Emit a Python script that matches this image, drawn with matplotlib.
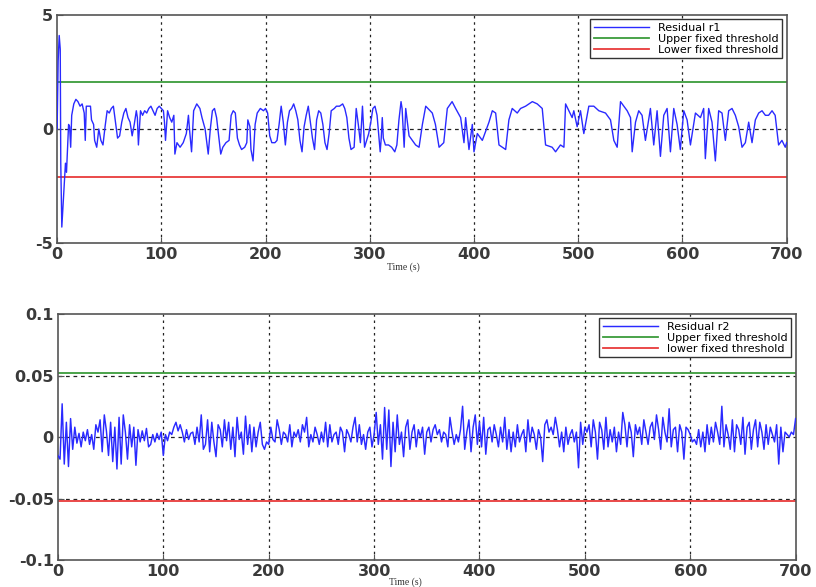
import numpy as np
import matplotlib
matplotlib.use("Agg")
import matplotlib.pyplot as plt

# ---------------- data ----------------
t1 = [0, 1, 2, 3, 3.5, 4.5, 5.5, 7, 8, 9, 10, 11, 12, 13, 14, 16, 18, 20, 22, 24, 26, 27, 28, 30, 32, 33,
      35, 36, 38, 40, 42, 44, 46, 48, 50, 52, 54, 56, 58, 60, 62, 64, 66, 68, 70, 72, 74, 76, 77, 78, 80,
      82, 84, 86, 88, 90, 92, 94, 96, 98, 100, 102, 103, 104, 106, 108, 110, 112, 113, 115, 118, 121, 124,
      126, 127, 129, 131, 134, 137, 139, 142, 145, 147, 149, 151, 153, 155, 157, 159, 162, 165, 167, 169,
      171, 173, 175, 177, 180, 182, 183, 185, 186, 188, 190, 192, 195, 198, 200, 202, 204, 206, 209, 211,
      213, 215, 217, 219, 221, 223, 225, 227, 229, 231, 233, 235, 237, 239, 241, 243, 245, 247, 249, 251,
      253, 255, 257, 259, 261, 263, 266, 268, 271, 274, 276, 278, 280, 282, 285, 287, 289, 291, 293, 295,
      297, 299, 301, 303, 305, 307, 309, 310, 311, 312, 313, 315, 318, 321, 324, 326, 328, 330, 331, 333,
      334.5, 337.7, 340.9, 344, 347.3, 350.5, 353.7, 360, 363, 366.5, 371, 374.4, 379, 382.4, 387.2, 390.4,
      392, 395.2, 398.4, 400, 403.2, 408, 414.4, 417.6, 420.8, 424, 427.2, 430.4, 433.5, 436.7, 441.5,
      444.7, 449.5, 456, 460.7, 465.5, 468.7, 475, 478.3, 483, 486.3, 487.9, 491, 494.2, 495.8, 499,
      502.2, 505.4, 510.2, 515, 519.8, 526.2, 531, 534.2, 537.4, 540.6, 543.8, 547, 550.2, 551.8, 555,
      558.1, 561.3, 564.5, 569.3, 572.5, 575.7, 578.9, 582.1, 585.3, 588.5, 591.7, 594.9, 598, 601.3,
      604.5, 607.7, 612.5, 617.3, 620.4, 622, 625.2, 628.4, 631.6, 634.8, 638, 641.2, 644.4, 647.6, 650.8,
      654, 657.2, 660.4, 663.6, 666.8, 670, 673.2, 676.4, 679.6, 682.7, 686, 689, 692.3, 695.5, 698.7, 700]
r1 = [0.0, 3.0, 4.1, 3.5, -1.5, -4.3, -3.5, -2.3, -1.5, -1.9, -0.9, 0.2, 0.1, -0.8, 0.6, 1.1, 1.3, 1.2,
      1.0, 1.1, 0.7, -0.5, 1.0, 1.0, 1.0, 0.4, 0.2, -0.5, -0.8, 0.0, -0.5, -0.7, 0.1, 0.8, 0.7, 0.9, 1.0,
      0.3, -0.4, -0.3, 0.3, 0.7, 0.9, 0.5, 0.3, -0.3, 0.2, 0.8, 0.5, -0.7, 0.8, 0.6, 0.8, 0.7, 0.9, 1.0,
      0.8, 0.6, 0.9, 1.0, 0.9, 0.8, 0.3, -0.5, 0.8, 0.5, 0.3, 0.6, -1.1, -0.6, -0.8, -0.6, -0.2, 0.6, 0.0,
      -1.0, 0.8, 1.1, 0.9, 0.5, 0.0, -1.1, 0.0, 0.8, 0.9, 0.5, -0.3, -1.1, -0.8, -0.6, -0.5, 0.6, 0.8,
      0.7, -0.4, -0.7, -0.9, -0.8, -0.6, 0.4, 0.1, -0.9, -1.4, 0.2, 0.7, 0.9, 0.8, 0.9, 0.7, -0.3, -0.6,
      -0.6, -0.5, 0.2, 1.0, 0.3, -0.7, 0.3, 0.8, 0.9, 1.1, 0.8, 0.4, -0.5, -1.0, 0.1, 0.6, 1.0, 0.3,
      -0.4, -0.9, 0.4, 0.8, 0.7, 0.2, -0.6, -0.9, -0.2, 0.8, 0.9, 1.0, 1.0, 1.1, 0.9, 0.5, -0.4, -0.9,
      -0.8, 0.9, 0.2, -0.6, 1.0, -0.8, -0.5, -0.2, 0.3, 0.9, 1.0, 0.6, -0.5, -1.0, -0.4, 0.5, -0.4, -0.7,
      -0.7, -0.8, -1.0, -0.7, 0.4, 1.2, 0.9, -0.8,
      0.9, -0.3, -0.5, -0.7, -0.8, 0.2, 1.0, 0.7, 0.2, -0.8, -0.6, 0.9, 1.2, 0.9, 0.5, -0.6,
      0.5, -0.9, 0.2, -1.0, -0.2, -0.5, 0.3, 0.8, 0.7, -0.7, -0.8, -0.9, 0.4, 0.9, 0.7,
      0.9, 1.0, 1.2, 1.1, 0.9, -0.7, -0.8, -1.0, -0.7, -0.8, 1.1, 0.8, 0.5, 0.8, 0.1,
      0.8, -0.2, 1.0, 1.0, 0.8, 0.7, 0.4, -0.5, -0.8, 1.2, 1.0, 0.8, 0.5, -1.0, 0.3,
      0.8, 0.6, -0.5, 0.9, -0.7, 0.8, -1.2, 0.6, 0.9, -1.0, 0.9, 0.2, -0.9, 0.8,
      0.4, -0.7, 0.7, 0.5, 0.9, -1.3, 0.9, 0.3, -1.4, 0.8, 0.7, -0.5, 0.8, 0.9, 0.6,
      0.1, -0.8, -0.6, 0.3, -0.6, 0.4, 0.7, 0.8, 0.6, 0.6, 0.8, 0.6, -0.7, -0.5, -0.8, -0.6]
upper1 = 2.07
lower1 = -2.12

r2 = [-0.015, -0.018, 0.027, -0.022, 0.012, -0.024, 0.015, -0.010, 0.008, -0.005,
      0.003, -0.008, 0.004, -0.003, 0.006, -0.006, 0.002, -0.010, 0.010, 0.004,
      0.014, -0.012, 0.018, 0.005, -0.015, 0.012, -0.020, 0.008, -0.026, 0.016,
      -0.022, 0.018, 0.004, -0.018, 0.010, -0.008, 0.008, -0.023, 0.006, -0.004,
      0.005, -0.003, 0.007, -0.008, -0.006, 0.002, -0.004, 0.003, -0.002, 0.004,
      -0.015, 0.002, -0.003, 0.004, 0.002, 0.008, 0.012, 0.005, 0.010, 0.004,
      -0.004, 0.006, -0.002, 0.003, 0.004, -0.006, 0.008, -0.004, 0.018, -0.010,
      -0.006, 0.014, -0.012, 0.012, -0.004, -0.016, 0.010, 0.006, -0.008, 0.014,
      -0.003, 0.012, -0.010, 0.008, -0.016, 0.016, -0.002, 0.004, -0.014, 0.017,
      -0.006, 0.010, -0.012, 0.008, -0.008, 0.004, 0.012, -0.006, -0.010, -0.004,
      -0.006, 0.008, -0.002, -0.004, 0.014, 0.006, -0.006, 0.004, 0.002, -0.004,
      0.010, -0.008, 0.004, 0.000, 0.006, -0.004, 0.010, 0.004, 0.016, -0.008,
      0.002, -0.004, 0.008, 0.002, -0.006, 0.004, -0.004, 0.012, -0.008, 0.010,
      -0.004, 0.002, 0.004, -0.006, 0.008, 0.004, -0.012, 0.006, 0.002, -0.004,
      0.008, 0.016, -0.004, 0.010, -0.006, 0.002, -0.010, 0.004, 0.008, -0.008,
      0.002, 0.020, -0.006, 0.010, -0.018, 0.024, -0.010, 0.022, -0.024, 0.012,
      -0.012, 0.018, -0.006, 0.004, -0.016, 0.008, 0.014, -0.010, 0.004, 0.010,
      -0.008, 0.006, 0.000, 0.008, -0.014, 0.004, 0.008, -0.004, 0.006, 0.010,
      0.002, 0.006, -0.004, 0.004, 0.002, -0.008, 0.016, 0.004, -0.006, 0.002,
      -0.004, 0.006, 0.025, -0.010, 0.004, 0.014, -0.012, 0.008, 0.018, -0.006,
      0.012, -0.008, 0.016, -0.014, 0.006, 0.008, -0.004, 0.010, 0.002, -0.008,
      0.008, -0.004, 0.016, -0.010, 0.006, -0.012, 0.004, -0.008, 0.010, -0.004,
      0.002, 0.006, -0.012, 0.014, -0.004, 0.008, 0.002, -0.010, 0.006, 0.000,
      -0.020, 0.010, 0.014, 0.004, 0.008, 0.002, 0.016, 0.006, -0.008, 0.004,
      -0.012, 0.008, -0.006, 0.002, 0.006, -0.004, 0.004, -0.025, 0.012, -0.006,
      0.008, 0.004, 0.010, -0.008, 0.014, 0.004, -0.018, 0.012, 0.006, -0.010,
      0.016, -0.008, 0.006, -0.004, 0.008, -0.012, 0.004, -0.006, 0.020, 0.010,
      -0.008, 0.012, 0.004, -0.016, 0.010, 0.002, 0.008, -0.006, 0.014, 0.004,
      -0.006, 0.008, 0.012, -0.002, 0.018, 0.006, -0.010, 0.016, 0.004, -0.004,
      0.023, -0.008, 0.006, 0.008, -0.012, 0.010, 0.004, -0.018, 0.008, 0.006,
      0.002, -0.004, -0.002, -0.006, 0.006, -0.008, 0.004, -0.012, 0.010, -0.006,
      0.008, -0.004, 0.012, 0.004, -0.006, 0.025, -0.008, 0.010, 0.002, -0.010,
      0.014, -0.012, 0.010, 0.006, -0.006, 0.016, -0.014, 0.008, 0.012, -0.010,
      0.006, 0.014, -0.008, 0.012, 0.004, -0.010, 0.010, -0.006, 0.008, 0.002,
      -0.004, 0.010, -0.022, 0.008, -0.012, 0.004, 0.002, 0.000, 0.004, 0.002,
      0.015]
t2 = np.arange(0, 2 * len(r2), 2)
upper2 = 0.052
lower2 = -0.052

xticks = [0, 100, 200, 300, 400, 500, 600, 700]
yticks1 = [-5, 0, 5]
yticks2 = [-0.1, -0.05, 0, 0.05, 0.1]
ytick2_labels = ["-0.1", "-0.05", "0", "0.05", "0.1"]
legend1 = ["Residual r1", "Upper fixed threshold", "Lower fixed threshold"]
legend2 = ["Residual r2", "Upper fixed threshold", "lower fixed threshold"]

# ---------------- style ----------------
BLUE = "#2a2aff"
GREEN = "#3c9c3c"
RED = "#e83a3a"
TICKC = "#3a3a3a"

fig = plt.figure(figsize=(8.16, 5.87), dpi=100)
ax1 = fig.add_axes([0.070, 0.586, 0.894, 0.3885])
ax2 = fig.add_axes([0.071, 0.046, 0.904, 0.419])


def style(ax):
    for s in ax.spines.values():
        s.set_color("#555555")
        s.set_linewidth(1.2)
    ax.tick_params(direction="in", length=4, colors="#555555", labelcolor=TICKC,
                   labelsize=11.5, pad=3)
    for lab in ax.get_xticklabels() + ax.get_yticklabels():
        lab.set_fontweight("bold")
    ax.set_xlim(0, 700)
    ax.set_xticks(xticks)


# top
ax1.plot(t1, r1, color=BLUE, lw=1.0, label=legend1[0], zorder=3)
ax1.axhline(upper1, color=GREEN, lw=1.3, label=legend1[1], zorder=2)
ax1.axhline(lower1, color=RED, lw=1.3, label=legend1[2], zorder=2)
ax1.set_ylim(-5, 5)
ax1.set_yticks(yticks1)
ax1.set_xticklabels([str(v) for v in xticks])
ax1.set_yticklabels([str(v) for v in yticks1])
for x in xticks[1:-1]:
    ax1.axvline(x, color="#222222", lw=0.9, ls=(0, (2, 3)), zorder=1)
ax1.axhline(0, color="#222222", lw=0.9, ls=(0, (3, 3)), zorder=1)
style(ax1)
leg1 = ax1.legend(loc="upper right", fontsize=8, handlelength=5, frameon=True,
                  fancybox=False, edgecolor="#333333", borderpad=0.3, labelspacing=0.1,
                  borderaxespad=0.4, framealpha=1)
leg1.get_frame().set_linewidth(1.0)

# bottom
ax2.plot(t2, r2, color=BLUE, lw=1.05, label=legend2[0], zorder=3)
ax2.axhline(upper2, color=GREEN, lw=1.3, label=legend2[1], zorder=2)
ax2.axhline(lower2, color=RED, lw=1.3, label=legend2[2], zorder=2)
ax2.set_ylim(-0.1, 0.1)
ax2.set_yticks(yticks2)
ax2.set_yticklabels(ytick2_labels)
ax2.set_xticklabels([str(v) for v in xticks])
for x in xticks[1:-1]:
    ax2.axvline(x, color="#222222", lw=0.9, ls=(0, (2, 3)), zorder=1)
for y in [-0.05, 0, 0.05]:
    ax2.axhline(y, color="#222222", lw=0.9, ls=(0, (3, 3)), zorder=1)
style(ax2)
leg2 = ax2.legend(loc="upper right", fontsize=8, handlelength=5, frameon=True,
                  fancybox=False, edgecolor="#333333", borderpad=0.3, labelspacing=0.1,
                  borderaxespad=0.4, framealpha=1)
leg2.get_frame().set_linewidth(1.0)

fig.text(403 / 816, 1 - 267 / 587, "Time (s)", fontsize=7, family="Liberation Serif",
         ha="center", va="center", color="#333333")
fig.text(405 / 816, 1 - 582 / 587, "Time (s)", fontsize=7, family="Liberation Serif",
         ha="center", va="center", color="#333333")

fig.savefig("out.png", dpi=100)
